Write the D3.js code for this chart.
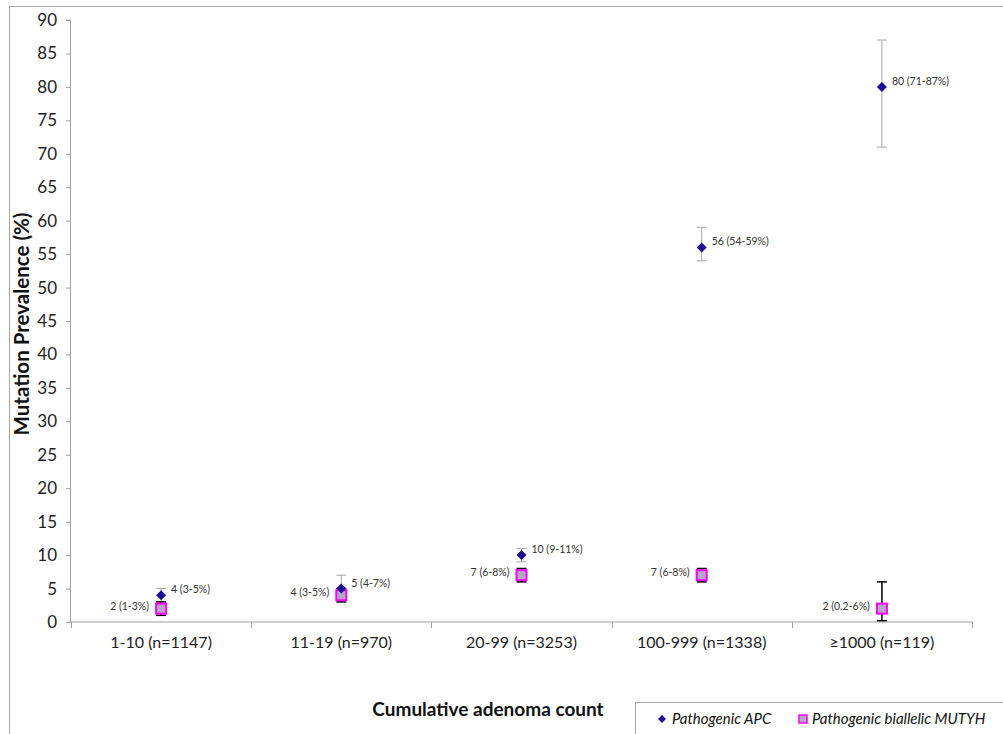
<!DOCTYPE html>
<html>
<head>
<meta charset="utf-8">
<script src="https://cdn.jsdelivr.net/npm/d3@7"></script>
<style>
  body { margin: 0; background: #fff; }
  text { font-family: Lato, "Open Sans", sans-serif; }
</style>
</head>
<body>
<div id="chart"></div>
<script>
// Chart data
var categories = ["1-10 (n=1147)", "11-19 (n=970)", "20-99 (n=3253)", "100-999 (n=1338)", "\u22651000 (n=119)"];
var apcValue = [4, 5, 10, 56, 80];
var apcLow = [3, 4, 9, 54, 71];
var apcHigh = [5, 7, 11, 59, 87];
var apcLabels = ["4 (3-5%)", "5 (4-7%)", "10 (9-11%)", "56 (54-59%)", "80 (71-87%)"];
var mutyhValue = [2, 4, 7, 7, 2];
var mutyhLow = [1, 3, 6, 6, 0.2];
var mutyhHigh = [3, 5, 8, 8, 6];
var mutyhLabels = ["2 (1-3%)", "4 (3-5%)", "7 (6-8%)", "7 (6-8%)", "2 (0.2-6%)"];
var yTicks = d3.range(0, 91, 5);

var svgWidth = 1003, svgHeight = 734;
var margin = { top: 20, left: 71, right: 31, bottom: 112 };
var width = svgWidth - margin.left - margin.right;
var height = svgHeight - margin.top - margin.bottom;

var svg = d3.select("#chart").append("svg")
  .attr("width", svgWidth)
  .attr("height", svgHeight);

// outer frame
svg.append("rect")
  .attr("x", 9.5).attr("y", 6.5)
  .attr("width", 1010).attr("height", 760)
  .attr("fill", "none").attr("stroke", "#a6a6a6");

var chartGroup = svg.append("g")
  .attr("transform", `translate(${margin.left}, ${margin.top})`);

var xScale = d3.scaleBand().domain(categories).range([0, width]);
var yScale = d3.scaleLinear().domain([0, 90]).range([height, 0]);
var xc = (i) => xScale(categories[i]) + xScale.bandwidth() / 2;

// y axis
var yAxis = d3.axisLeft(yScale).tickValues(yTicks).tickSize(5).tickPadding(9);
var yg = chartGroup.append("g").call(yAxis);
yg.select(".domain").attr("stroke", "#a0a0a0").attr("d", `M-0.5,${height}V0H-5`);
yg.selectAll(".tick line").attr("stroke", "#a0a0a0");
yg.selectAll(".tick text").attr("font-size", 17).attr("fill", "#222");

// x axis
var xAxis = d3.axisBottom(xScale).tickSize(0).tickPadding(15);
var xg = chartGroup.append("g")
  .attr("transform", `translate(0, ${height})`)
  .call(xAxis);
xg.select(".domain").attr("stroke", "#a0a0a0").attr("d", `M0,0H${width}`);
xg.selectAll(".tick text").attr("font-size", 16).attr("fill", "#222");
// boundary ticks between categories
chartGroup.append("g").selectAll("line")
  .data(d3.range(categories.length + 1))
  .enter().append("line")
  .attr("x1", (d) => Math.round(d * xScale.bandwidth()) + 0.5)
  .attr("x2", (d) => Math.round(d * xScale.bandwidth()) + 0.5)
  .attr("y1", height).attr("y2", height + 6)
  .attr("stroke", "#a0a0a0");

// error bars
function errorBars(low, high, color, cls) {
  var g = chartGroup.append("g").attr("class", cls);
  low.forEach(function (lo, i) {
    var x = xc(i);
    g.append("line").attr("x1", x).attr("x2", x)
      .attr("y1", yScale(lo)).attr("y2", yScale(high[i]))
      .attr("stroke", color).attr("stroke-width", color === "#000" ? 1.5 : 1);
    [lo, high[i]].forEach(function (v) {
      g.append("line").attr("x1", x - 5).attr("x2", x + 5)
        .attr("y1", yScale(v)).attr("y2", yScale(v))
        .attr("stroke", color).attr("stroke-width", color === "#000" ? 1.5 : 1);
    });
  });
}
errorBars(apcLow, apcHigh, "#a6a6a6", "apc-err");
errorBars(mutyhLow, mutyhHigh, "#000", "mutyh-err");

// MUTYH squares
chartGroup.selectAll(".sq")
  .data(mutyhValue).enter()
  .append("rect")
  .attr("class", "sq")
  .attr("x", (d, i) => xc(i) - 5)
  .attr("y", (d) => yScale(d) - 5)
  .attr("width", 10).attr("height", 10)
  .attr("fill", "#b3a9c4")
  .attr("stroke", "#ff00ff")
  .attr("stroke-width", 2);

// APC diamonds
chartGroup.selectAll(".dia")
  .data(apcValue).enter()
  .append("path")
  .attr("class", "dia")
  .attr("d", "M0,-5L5,0L0,5L-5,0Z")
  .attr("transform", (d, i) => `translate(${xc(i)}, ${yScale(d)})`)
  .attr("fill", "#1c0f96");

// data labels
chartGroup.selectAll(".apc-lab")
  .data(apcValue).enter()
  .append("text")
  .attr("class", "apc-lab")
  .attr("x", (d, i) => xc(i) + 10)
  .attr("y", (d) => yScale(d) - 2)
  .attr("font-size", 10.5)
  .attr("fill", "#333")
  .text((d, i) => apcLabels[i]);

chartGroup.selectAll(".mut-lab")
  .data(mutyhValue).enter()
  .append("text")
  .attr("class", "mut-lab")
  .attr("x", (d, i) => xc(i) - 12)
  .attr("y", (d) => yScale(d) + 1)
  .attr("text-anchor", "end")
  .attr("font-size", 10.5)
  .attr("fill", "#333")
  .text((d, i) => mutyhLabels[i]);

// axis titles
svg.append("text")
  .attr("x", 488).attr("y", 716)
  .attr("text-anchor", "middle")
  .attr("font-size", 19).attr("font-weight", "bold").attr("fill", "#111")
  .text("Cumulative adenoma count");

svg.append("text")
  .attr("transform", "translate(29, 324) rotate(-90)")
  .attr("text-anchor", "middle")
  .attr("font-size", 20.5).attr("font-weight", "bold").attr("fill", "#111")
  .text("Mutation Prevalence (%)");

// legend
var legend = svg.append("g");
legend.append("rect")
  .attr("x", 635.5).attr("y", 702.5)
  .attr("width", 400).attr("height", 60)
  .attr("fill", "#fff").attr("stroke", "#a6a6a6");
legend.append("path")
  .attr("d", "M0,-4L4,0L0,4L-4,0Z")
  .attr("transform", "translate(662, 719)")
  .attr("fill", "#1c0f96");
legend.append("text")
  .attr("x", 672).attr("y", 724)
  .attr("font-size", 15).attr("font-style", "italic").attr("fill", "#111")
  .text("Pathogenic APC");
legend.append("rect")
  .attr("x", 799).attr("y", 715).attr("width", 8).attr("height", 8)
  .attr("fill", "#b3a9c4").attr("stroke", "#ff00ff").attr("stroke-width", 1.5);
legend.append("text")
  .attr("x", 812).attr("y", 724)
  .attr("font-size", 15).attr("font-style", "italic").attr("fill", "#111")
  .text("Pathogenic biallelic MUTYH");
</script>
</body>
</html>
